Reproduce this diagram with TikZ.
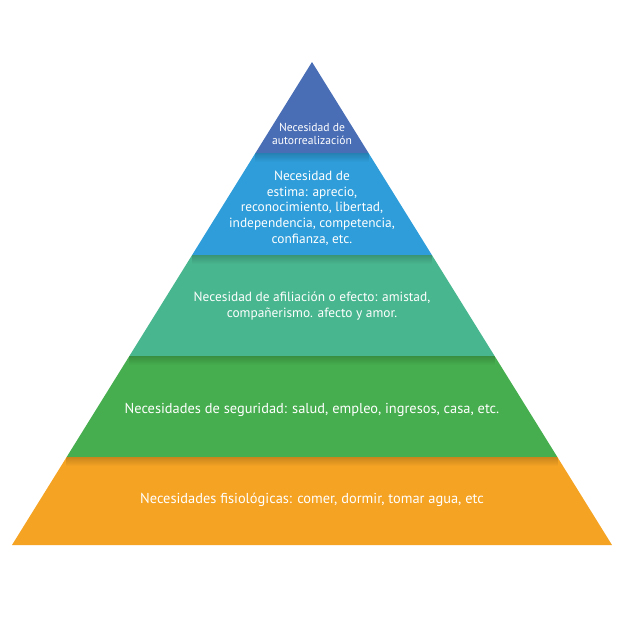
\documentclass[tikz,border=0pt]{standalone}
\usepackage{fontspec}
\setmainfont{PT Sans}
\usepackage{tikz}
\usetikzlibrary{calc}

\definecolor{nivelA}{HTML}{4A6EB6}
\definecolor{nivelB}{HTML}{2E9DD9}
\definecolor{nivelC}{HTML}{48B68F}
\definecolor{nivelD}{HTML}{46AE4E}
\definecolor{nivelE}{HTML}{F5A323}

\begin{document}
\begin{tikzpicture}[
    x=0.03cm, y=-0.03cm,
    txt/.style={text=white, align=center, font=\fontsize{11.4}{13.4}\selectfont},
    big/.style={txt, font=\fontsize{12.3}{14}\selectfont},
    small/.style={txt, font=\fontsize{9.9}{11.5}\selectfont}
]
\useasboundingbox (0,0) rectangle (623,616);
% pyramid corners
\coordinate (apex) at (312,62);
\coordinate (bl) at (12,545);
\coordinate (br) at (612,545);
% band edges
\foreach \t/\n in {0.1884/a, 0.3996/b, 0.6087/c, 0.8178/d}{
  \coordinate (l\n) at ($(apex)!\t!(bl)$);
  \coordinate (r\n) at ($(apex)!\t!(br)$);
}
% bands
\fill[nivelA] (apex) -- (la) -- (ra) -- cycle;
\fill[nivelB] (la) -- (lb) -- (rb) -- (ra) -- cycle;
\fill[nivelC] (lb) -- (lc) -- (rc) -- (rb) -- cycle;
\fill[nivelD] (lc) -- (ld) -- (rd) -- (rc) -- cycle;
\fill[nivelE] (ld) -- (bl) -- (br) -- (rd) -- cycle;
% soft shadow under each edge
\foreach \p/\q/\r/\s/\c in {la/lb/rb/ra/nivelB, lb/lc/rc/rb/nivelC, lc/ld/rd/rc/nivelD, ld/bl/br/rd/nivelE}{
  \begin{scope}
    \clip (\p) -- (\q) -- (\r) -- (\s) -- cycle;
    \shade[top color=\c!82!black, bottom color=\c] (\p) rectangle ($(\s)+(0,9)$);
  \end{scope}
}
% labels
\node[small] (top) at (312,134) {Necesidad de\\autorrealización};
\node[txt] (estima) at (312,208) {Necesidad de\\estima: aprecio,\\reconocimiento, libertad,\\independencia, competencia,\\confianza, etc.};
\node[txt] (afil) at (312,306) {Necesidad de afiliación o efecto: amistad,\\compañerismo. afecto y amor.};
\node[big] (segur) at (312,410) {Necesidades de seguridad: salud, empleo, ingresos, casa, etc.};
\node[big] (fisio) at (312,500) {Necesidades fisiológicas: comer, dormir, tomar agua, etc};
\end{tikzpicture}
\end{document}
